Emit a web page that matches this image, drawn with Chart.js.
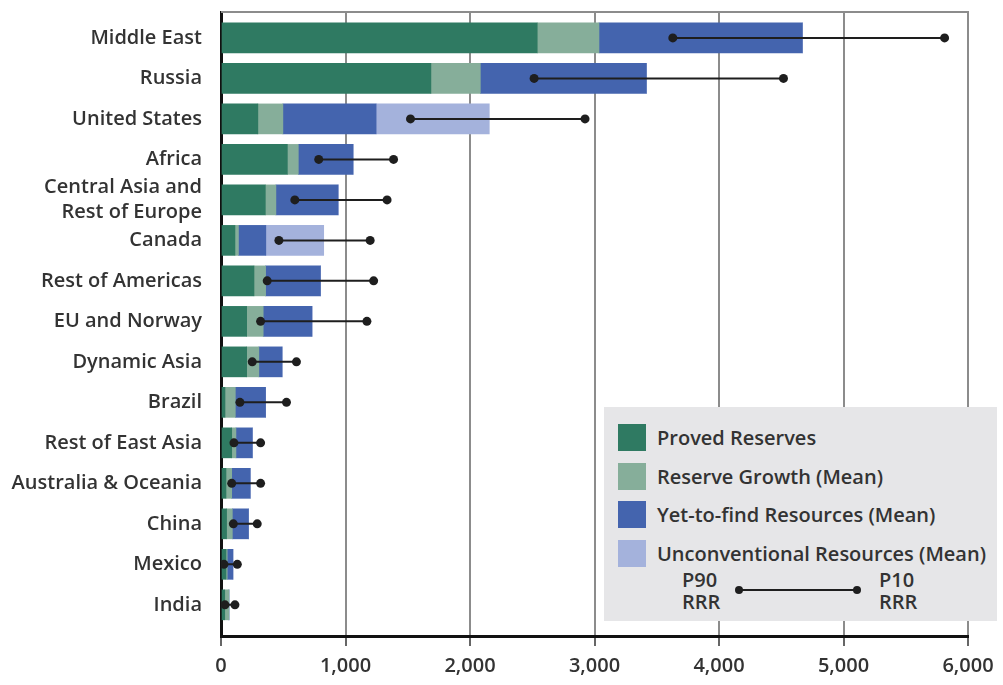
<!DOCTYPE html>
<html lang="en">
  <head>
    <meta charset="UTF-8" />
    <title>Oil resources by region</title>
    <script src="https://cdn.jsdelivr.net/npm/chart.js"></script>
    <style>
      body { margin: 0; background: #fff; }
      .wrap { position: relative; width: 1003px; height: 685px; }
      .legenda {
        position: absolute; left: 604px; top: 407px; width: 393px; height: 214px;
        background: #e6e6e8; font-family: "Open Sans", sans-serif; font-size: 20px;
        font-weight: 600; color: #333;
      }
      .item { position: absolute; left: 14px; height: 27px; display: flex; align-items: center; white-space: nowrap; }
      .item span.cor { width: 28px; height: 27px; margin-right: 11px; }
      .rrr { position: absolute; line-height: 22px; text-align: left; }
    </style>
  </head>
  <body>
    <div class="wrap">
      <canvas id="myChart" width="1003" height="685"></canvas>
      <div class="legenda" id="legenda"></div>
    </div>
    <script>
      var categorias = [
        "Middle East", "Russia", "United States", "Africa",
        ["Central Asia and", "Rest of Europe"], "Canada", "Rest of Americas",
        "EU and Norway", "Dynamic Asia", "Brazil", "Rest of East Asia",
        "Australia & Oceania", "China", "Mexico", "India"
      ];
      var provadas = [2540, 1686, 296, 533, 356, 112, 265, 206, 206, 32, 86, 40, 45, 40, 30];
      var crescimento = [496, 397, 201, 88, 85, 28, 93, 133, 98, 83, 34, 46, 46, 10, 34];
      var aDescobrir = [1634, 1334, 749, 440, 500, 220, 441, 392, 187, 243, 132, 149, 130, 46, 0];
      var naoConvencionais = [0, 0, 909, 0, 0, 465, 0, 0, 0, 0, 0, 0, 0, 0, 0];
      var p90 = [3629, 2515, 1522, 785, 593, 465, 371, 318, 251, 152, 104, 86, 99, 24, 32];
      var p10 = [5812, 4518, 2924, 1386, 1334, 1198, 1226, 1172, 606, 526, 318, 318, 291, 131, 112];
      var ticksX = [0, 1000, 2000, 3000, 4000, 5000, 6000];

      var series = [
        { nome: "Proved Reserves", dados: provadas, cor: "#2f7a62" },
        { nome: "Reserve Growth (Mean)", dados: crescimento, cor: "#86ae9a" },
        { nome: "Yet-to-find Resources (Mean)", dados: aDescobrir, cor: "#4464ae" },
        { nome: "Unconventional Resources (Mean)", dados: naoConvencionais, cor: "#a4b2dc" }
      ];

      var datasets = series.map(function (s) {
        return {
          type: "bar",
          label: s.nome,
          data: s.dados.map(function (v, i) { return { x: v, y: i }; }),
          backgroundColor: s.cor,
          barThickness: 30,
          grouped: false,
          order: 1
        };
      });

      // P90 - P10 ranges, gaps between regions
      var faixa = [];
      p90.forEach(function (v, i) {
        faixa.push({ x: v, y: i });
        faixa.push({ x: p10[i], y: i });
        faixa.push({ x: null, y: i });
      });
      datasets.push({
        type: "scatter",
        label: "P90 - P10 RRR",
        data: faixa,
        showLine: true,
        spanGaps: false,
        borderColor: "#1e1e1e",
        borderWidth: 2,
        pointRadius: 4.5,
        pointBackgroundColor: "#1e1e1e",
        pointBorderWidth: 0,
        order: 0
      });

      var fonte = { family: "'Open Sans', sans-serif", size: 20, weight: "600" };

      // grey line on top of the plot area
      var bordaTopo = {
        id: "bordaTopo",
        afterDraw: function (chart) {
          var a = chart.chartArea, ctx = chart.ctx;
          ctx.save();
          ctx.strokeStyle = "#8c8c8c";
          ctx.lineWidth = 2;
          ctx.beginPath();
          ctx.moveTo(a.left, a.top);
          ctx.lineTo(a.right + 1, a.top);
          ctx.stroke();
          ctx.restore();
        }
      };

      new Chart(document.getElementById("myChart"), {
        type: "bar",
        data: { datasets: datasets },
        plugins: [bordaTopo],
        options: {
          responsive: false,
          animation: false,
          indexAxis: "y",
          layout: { autoPadding: false, padding: { top: 12, right: 35, left: 0, bottom: 0 } },
          plugins: { legend: { display: false }, tooltip: { enabled: false } },
          scales: {
            x: {
              type: "linear",
              stacked: true,
              min: 0,
              max: 6000,
              afterBuildTicks: function (scale) {
                scale.ticks = ticksX.map(function (v) { return { value: v }; });
              },
              afterFit: function (scale) {
                scale.height = 49;
                scale.paddingLeft = 0;
                scale.paddingRight = 0;
              },
              ticks: {
                font: fonte,
                color: "#333",
                padding: 8,
                maxRotation: 0,
                callback: function (v) { return v.toLocaleString("en-US"); }
              },
              grid: { color: "#8c8c8c", lineWidth: 2, tickLength: 10, tickColor: "#666" },
              border: { color: "#111", width: 3 }
            },
            y: {
              type: "linear",
              stacked: true,
              reverse: true,
              offset: false,
              min: -0.64,
              max: 14.77,
              afterBuildTicks: function (scale) {
                scale.ticks = categorias.map(function (c, i) { return { value: i }; });
              },
              afterFit: function (scale) {
                scale.width = 221;
                scale.paddingTop = 0;
                scale.paddingBottom = 0;
              },
              ticks: {
                font: Object.assign({}, fonte, { lineHeight: 1.25 }),
                color: "#333",
                padding: 19,
                autoSkip: false,
                callback: function (v) { return categorias[v]; }
              },
              grid: { display: false, drawTicks: false, offset: false },
              border: { color: "#111", width: 3 }
            }
          }
        }
      });

      // legend box
      var leg = document.getElementById("legenda");
      series.forEach(function (s, i) {
        var d = document.createElement("div");
        d.className = "item";
        d.style.top = (17 + i * 38.5) + "px";
        d.innerHTML = '<span class="cor" style="background:' + s.cor + '"></span>' + s.nome;
        leg.appendChild(d);
      });
      leg.insertAdjacentHTML("beforeend",
        '<div class="rrr" style="left:78px;top:162px;">P90<br>RRR</div>' +
        '<div style="position:absolute;left:135px;top:182px;width:118px;height:2px;background:#1e1e1e"></div>' +
        '<div style="position:absolute;left:131px;top:179px;width:8px;height:8px;border-radius:50%;background:#1e1e1e"></div>' +
        '<div style="position:absolute;left:249px;top:179px;width:8px;height:8px;border-radius:50%;background:#1e1e1e"></div>' +
        '<div class="rrr" style="left:275px;top:162px;">P10<br>RRR</div>');
    </script>
  </body>
</html>
